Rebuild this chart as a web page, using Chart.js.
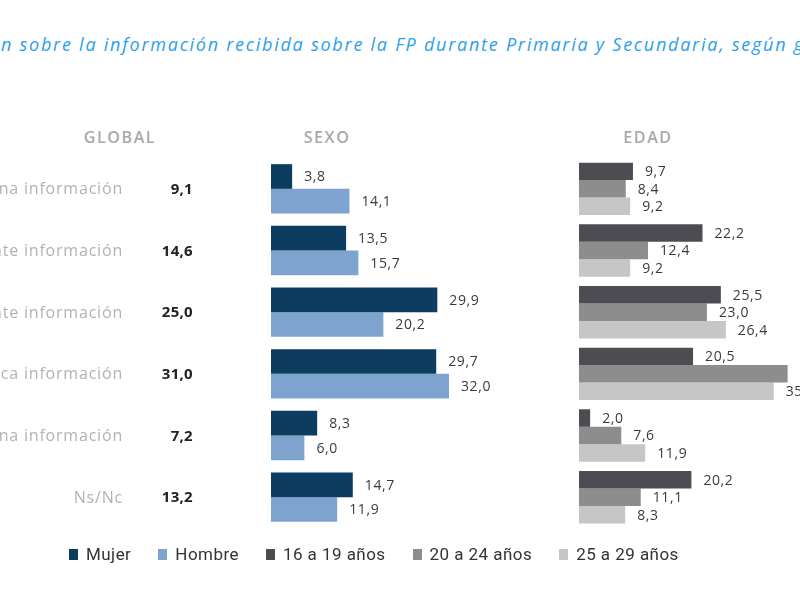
<!DOCTYPE html>
<html lang="es">
<head>
<meta charset="utf-8">
<title>Información recibida sobre la FP</title>
<script src="https://cdn.jsdelivr.net/npm/chart.js@4.4.1/dist/chart.umd.min.js"></script>
<style>
    html, body { margin: 0; padding: 0; width: 800px; height: 600px; overflow: hidden; background: #fff; }
    body { position: relative; font-family: "Open Sans", sans-serif; }
    .subtitle {
        position: absolute; left: 1px; top: 32px; white-space: nowrap;
        font-style: italic; font-size: 18px; letter-spacing: 1.75px; color: #2ba0ea;
    }
    .subtitle .pre { position: absolute; right: 100%; }
    .head {
        position: absolute; top: 126px; font-size: 16px; font-weight: 600;
        color: #a9a9a9; letter-spacing: 1.6px; transform: translateX(-50%);
    }
    canvas { position: absolute; top: 0; }
    #sexoChart { left: 0; }
    #edadChart { left: 570px; }
    .legend {
        position: absolute; left: 69px; top: 544px; display: flex; gap: 27px;
        font-family: Roboto, sans-serif; font-size: 17px; letter-spacing: 0.45px; color: #333;
    }
    .legend span.item { display: flex; align-items: center; }
    .legend i { display: inline-block; width: 9px; height: 11px; margin-right: 8px; }
</style>
</head>
<body>
<div class="subtitle"><span class="pre">Gráfico 5. Opinió</span>n sobre la información recibida sobre la FP durante Primaria y Secundaria, según género y edad</div>
<div class="head" style="left:120px">GLOBAL</div>
<div class="head" style="left:327px">SEXO</div>
<div class="head" style="left:648px">EDAD</div>
<canvas id="sexoChart" width="570" height="600"></canvas>
<canvas id="edadChart" width="330" height="600"></canvas>
<div class="legend" id="legend"></div>

<script>
// categorías (las primeras letras quedan fuera del recorte)
const categorias = ["Muy buena información", "Bastante información", "Suficiente información", "Poca información", "Ninguna información", "Ns/Nc"];
const globalValores = [9.1, 14.6, 25.0, 31.0, 7.2, 13.2];

// SEXO
const mujer = [3.8, 13.5, 29.9, 29.7, 8.3, 14.7];
const hombre = [14.1, 15.7, 20.2, 32.0, 6.0, 11.9];

// EDAD
const edad16a19 = [9.7, 22.2, 25.5, 20.5, 2.0, 20.2];
const edad20a24 = [8.4, 12.4, 23.0, 37.5, 7.6, 11.1];
const edad25a29 = [9.2, 9.2, 26.4, 35.0, 11.9, 8.3];

const series = ["Mujer", "Hombre", "16 a 19 años", "20 a 24 años", "25 a 29 años"];
const colores = ["#0c3d60", "#7fa3cf", "#4c4c52", "#8d8d8d", "#c6c6c6"];

const fmt = v => v.toFixed(1).replace(".", ",");

// etiquetas de valor al final de cada barra
const valueLabels = {
    id: "valueLabels",
    afterDatasetsDraw(chart) {
        const ctx = chart.ctx;
        ctx.save();
        ctx.font = "14px 'Open Sans'";
        ctx.letterSpacing = "0.6px";
        ctx.fillStyle = "#3a3a3a";
        ctx.textAlign = "left";
        ctx.textBaseline = "middle";
        chart.data.datasets.forEach((ds, i) => {
            chart.getDatasetMeta(i).data.forEach((bar, j) => {
                ctx.fillText(fmt(ds.data[j]), bar.x + 12, bar.y + 1);
            });
        });
        ctx.restore();
    }
};

// columna izquierda: categorías + valor global
const globalColumn = {
    id: "globalColumn",
    afterDraw(chart) {
        const ctx = chart.ctx;
        const y = chart.scales.y;
        ctx.save();
        ctx.textAlign = "right";
        ctx.textBaseline = "middle";
        categorias.forEach((cat, i) => {
            const py = y.getPixelForValue(i) + 1;
            ctx.font = "16px 'Open Sans'";
            ctx.letterSpacing = "0.8px";
            ctx.fillStyle = "#b2b2b2";
            ctx.fillText(cat, 123, py);
            ctx.font = "bold 15px 'Open Sans'";
            ctx.letterSpacing = "0.3px";
            ctx.fillStyle = "#222";
            ctx.fillText(fmt(globalValores[i]), 193, py);
        });
        ctx.restore();
    }
};

function baseOptions(padLeft, xMax, catPct) {
    return {
        indexAxis: "y",
        responsive: false,
        animation: false,
        layout: { padding: { left: padLeft, top: 158, bottom: 72, right: 0 } },
        scales: {
            x: { display: false, min: 0, max: xMax },
            y: { display: false }
        },
        datasets: { bar: { categoryPercentage: catPct, barPercentage: 1 } },
        plugins: { legend: { display: false }, tooltip: { enabled: false } }
    };
}

new Chart(document.getElementById("sexoChart"), {
    type: "bar",
    data: {
        labels: categorias,
        datasets: [
            { label: series[0], data: mujer, backgroundColor: colores[0] },
            { label: series[1], data: hombre, backgroundColor: colores[1] }
        ]
    },
    options: baseOptions(271, 53.75, 0.8),
    plugins: [valueLabels, globalColumn]
});

new Chart(document.getElementById("edadChart"), {
    type: "bar",
    data: {
        labels: categorias,
        datasets: [
            { label: series[2], data: edad16a19, backgroundColor: colores[2] },
            { label: series[3], data: edad20a24, backgroundColor: colores[3] },
            { label: series[4], data: edad25a29, backgroundColor: colores[4] }
        ]
    },
    options: baseOptions(9, 57.7, 0.85),
    plugins: [valueLabels]
});

// leyenda común
const legend = document.getElementById("legend");
series.forEach((name, i) => {
    const item = document.createElement("span");
    item.className = "item";
    item.innerHTML = `<i style="background:${colores[i]}"></i>${name}`;
    legend.appendChild(item);
});
</script>
</body>
</html>
